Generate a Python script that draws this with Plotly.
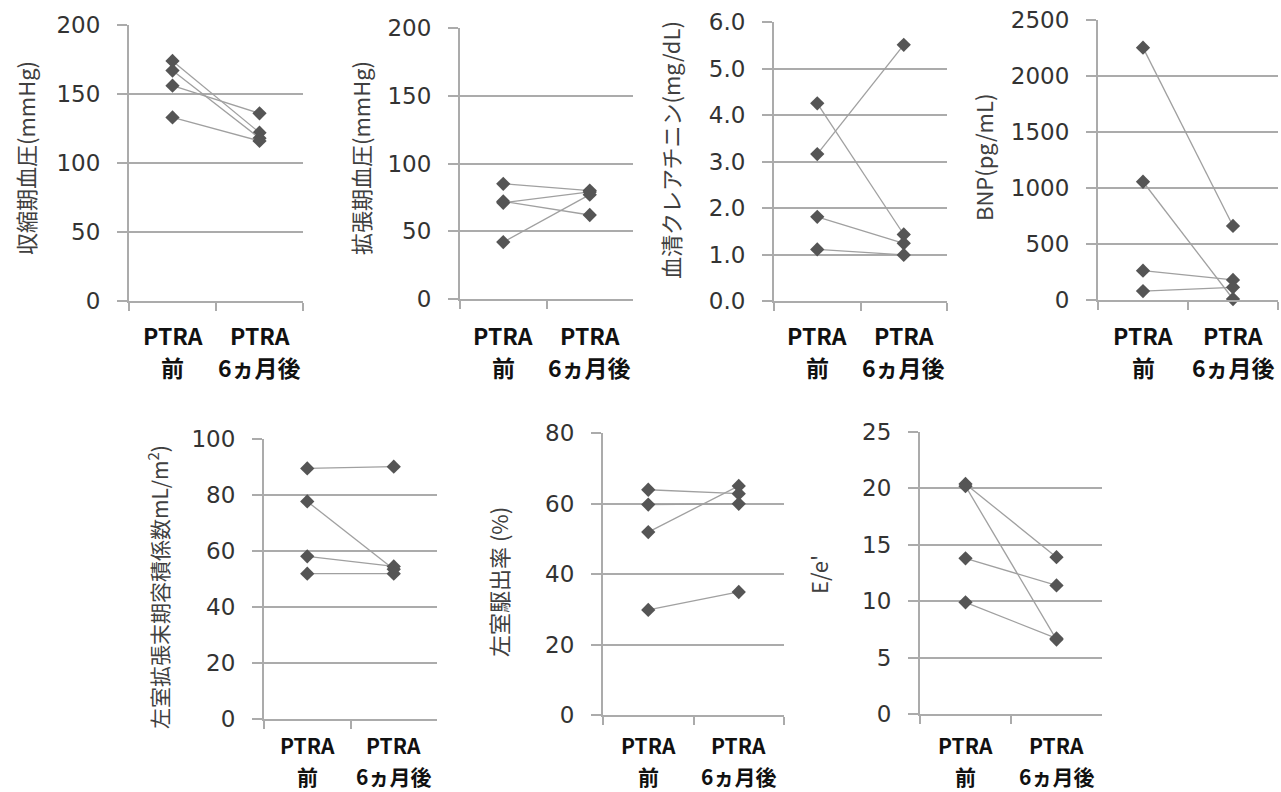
import plotly.graph_objects as go

W, H = 1281, 792

categories = ["前", "6ヵ月後"]
label_top = ["PTRA", "PTRA"]
label_bottom = ["前", "6ヵ月後"]

sbp_before = [174, 167, 156, 133]
sbp_after = [122, 118, 136, 116]
dbp_before = [85, 72, 71, 42]
dbp_after = [80, 62, 79, 77]
cre_before = [4.25, 3.16, 1.81, 1.11]
cre_after = [1.43, 5.51, 1.24, 0.99]
bnp_before = [2253, 1056, 262, 80]
bnp_after = [661, 9, 179, 113]
lvedvi_before = [89.5, 77.7, 58.1, 51.9]
lvedvi_after = [90.1, 53.5, 54.5, 51.9]
lvef_before = [63.9, 59.7, 51.9, 29.8]
lvef_after = [62.8, 59.9, 65.0, 34.9]
ee_before = [20.4, 20.2, 13.8, 9.9]
ee_after = [13.9, 6.6, 11.4, 6.7]

titles = ["収縮期血圧(mmHg)", "拡張期血圧(mmHg)", "血清クレアチニン(mg/dL)", "BNP(pg/mL)",
          "左室拡張末期容積係数mL/m<sup>2</sup>)", "左室駆出率 (%)", "E/e'"]
y_max = [200, 200, 6, 2500, 100, 80, 25]
y_dtick = [50, 50, 1, 500, 20, 20, 5]
y_fmt = ["d", "d", ".1f", "d", "d", "d", "d"]

panels = [
    (sbp_before, sbp_after), (dbp_before, dbp_after), (cre_before, cre_after),
    (bnp_before, bnp_after), (lvedvi_before, lvedvi_after),
    (lvef_before, lvef_after), (ee_before, ee_after),
]

# plot-area boxes in pixels: left, right, top, bottom
boxes = [
    (129, 303, 25, 301), (460, 633, 28, 299), (774, 947, 22, 301), (1098, 1278, 20, 300),
    (264, 437, 439, 719), (603, 784, 433, 715), (920, 1102, 432, 714),
]
# category-label line centres (px from top) for each panel
label_rows = [(335, 367)] * 4 + [(745, 776)] * 3
label_sizes = [23] * 4 + [21] * 3
# title centers (x px, y px) and sizes
title_pos = [(25, 158), (360, 158), (670, 150), (983, 158), (158, 587), (498, 582), (818, 575)]
title_sizes = [22, 22, 22, 22, 21, 22, 22]

GRID = "#ababab"
MARK = "#555555"
LINE = "#a0a0a0"
TXT = "#333333"

fig = go.Figure()
layout = dict(
    width=W, height=H, margin=dict(l=0, r=0, t=0, b=0, autoexpand=False),
    paper_bgcolor="white", plot_bgcolor="white", showlegend=False,
    annotations=[],
)

for i, ((bef, aft), (l, r, t, b)) in enumerate(zip(panels, boxes)):
    n = i + 1
    xa = "x" if n == 1 else f"x{n}"
    ya = "y" if n == 1 else f"y{n}"
    for vb, va in zip(bef, aft):
        fig.add_trace(go.Scatter(
            x=categories, y=[vb, va], xaxis=xa, yaxis=ya, mode="lines+markers",
            line=dict(color=LINE, width=1.3),
            marker=dict(symbol="diamond", size=11, color=MARK),
            cliponaxis=False, hoverinfo="skip",
        ))
    xkey = "xaxis" if n == 1 else f"xaxis{n}"
    ykey = "yaxis" if n == 1 else f"yaxis{n}"
    layout[xkey] = dict(
        domain=[l / W, r / W], anchor=ya, type="category", automargin=False,
        categoryorder="array", categoryarray=categories, range=[-0.5, 1.5],
        showline=True, linecolor=GRID, linewidth=2, showgrid=False,
        ticks="outside", tickson="boundaries", ticklen=8, tickcolor=GRID, tickwidth=2,
        showticklabels=False,
    )
    # two-row category labels placed on the category scale of the x axis
    lbl_font = dict(family="Noto Sans CJK JP", size=label_sizes[i], color="#111111", weight="bold")
    for cat, top_txt, bot_txt in zip(categories, label_top, label_bottom):
        for txt, ypx in zip((top_txt, bot_txt), label_rows[i]):
            layout["annotations"].append(dict(
                text=txt, x=cat, xref=xa, y=1 - ypx / H, yref="paper",
                xanchor="center", yanchor="middle", showarrow=False, font=lbl_font,
            ))
    layout[ykey] = dict(
        domain=[1 - b / H, 1 - t / H], anchor=xa, range=[0, y_max[i]], automargin=False,
        dtick=y_dtick[i], tick0=0, tickformat=y_fmt[i],
        showline=True, linecolor=GRID, linewidth=2,
        showgrid=True, gridcolor=GRID, gridwidth=2, zeroline=False,
        ticks="outside", ticklen=10, tickcolor=GRID, tickwidth=2,
        tickfont=dict(family="DejaVu Sans", size=23, color=TXT),
        ticklabelstandoff=12,
    )
    tx, ty = title_pos[i]
    layout["annotations"].append(dict(
        text=titles[i], x=tx / W, y=1 - ty / H, xref="paper", yref="paper",
        xanchor="center", yanchor="middle", textangle=-90, showarrow=False,
        font=dict(family="Noto Sans CJK JP", size=title_sizes[i], color="#404040"),
    ))

fig.update_layout(**layout)
fig.write_html(
    "out.html",
    config={"displayModeBar": False},
    post_script="document.body.style.margin='0';document.body.style.overflow='hidden';",
)
